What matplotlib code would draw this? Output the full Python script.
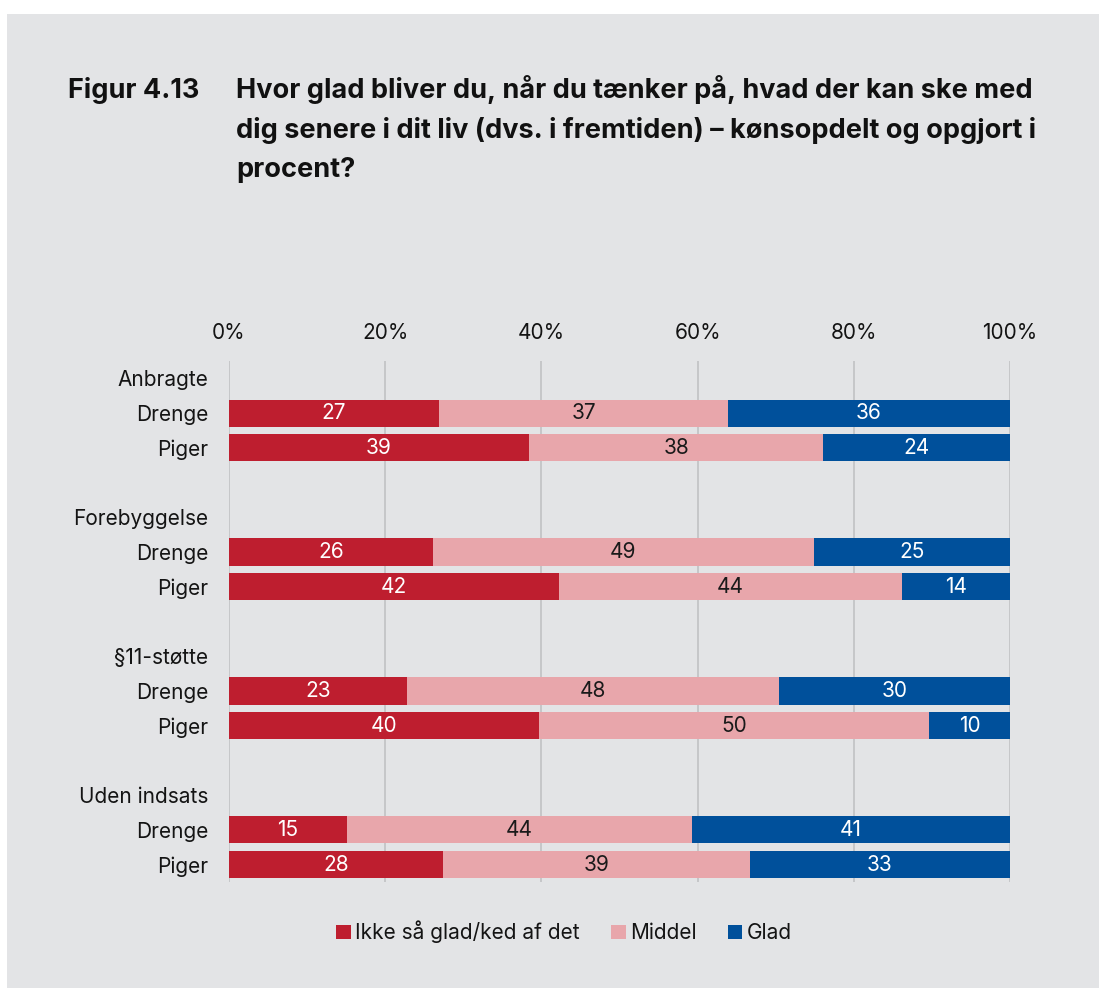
import matplotlib
matplotlib.use("Agg")
import matplotlib.pyplot as plt
from matplotlib.patches import Rectangle, Patch

plt.rcParams['font.family'] = ['Inter', 'DejaVu Sans']

groups = ["Anbragte", "Forebyggelse", "§11-støtte", "Uden indsats"]
genders = ["Drenge", "Piger"]
series = ["Ikke så glad/ked af det", "Middel", "Glad"]
colors = ["#be1e2f", "#e8a6ab", "#00509b"]
text_colors = ["white", "#1a1a1a", "white"]

# values per bar (group x gender), order: Anbragte D, Anbragte P, Forebyggelse D, ...
ikke = [26.9, 38.4, 26.1, 42.2, 22.8, 39.7, 15.1, 27.4]
middel = [37.0, 37.7, 48.8, 44.0, 47.6, 49.9, 44.2, 39.3]
glad = [36.1, 23.9, 25.1, 13.8, 29.6, 10.4, 40.7, 33.3]
labels_ikke = ["27", "39", "26", "42", "23", "40", "15", "28"]
labels_middel = ["37", "38", "49", "44", "48", "50", "44", "39"]
labels_glad = ["36", "24", "25", "14", "30", "10", "41", "33"]

xticks = [0, 20, 40, 60, 80, 100]

W, H = 1099, 988
fig = plt.figure(figsize=(W / 100, H / 100), dpi=100)
fig.patch.set_facecolor("white")
bg = "#e3e4e6"
fig.add_artist(Rectangle((7 / W, 0), 1, 1 - 14 / H, transform=fig.transFigure,
                         facecolor=bg, edgecolor="none", zorder=-10))

ax = fig.add_axes([229 / W, (H - 882) / H, 781 / W, 521 / H])
ax.set_facecolor("none")

# row positions
ypos = []
yticks = []
ylabels = []
for gi, g in enumerate(groups):
    base = gi * 4
    yticks.append(base)
    ylabels.append(g)
    for k, gen in enumerate(genders):
        ypos.append(base + 1 + k)
        yticks.append(base + 1 + k)
        ylabels.append(gen)

FS = 15
vals = [ikke, middel, glad]
labs = [labels_ikke, labels_middel, labels_glad]
left = [0.0] * len(ypos)
for s in range(3):
    ax.barh(ypos, vals[s], left=left, height=0.78, color=colors[s],
            label=series[s], zorder=3)
    for i, y in enumerate(ypos):
        ax.text(left[i] + vals[s][i] / 2, y, labs[s][i], ha="center", va="center",
                color=text_colors[s], fontsize=FS, zorder=4)
    left = [l + v for l, v in zip(left, vals[s])]

ax.set_xlim(0, 100)
ax.set_ylim(14.5, -0.5)
ax.set_xticks(xticks)
ax.set_xticklabels([f"{t}%" for t in xticks], fontsize=FS, color="#141414")
ax.xaxis.tick_top()
ax.tick_params(axis="x", length=0, pad=13)
ax.set_yticks(yticks)
ax.set_yticklabels(ylabels, fontsize=FS, color="#141414")
ax.tick_params(axis="y", length=0, pad=15)
ax.grid(axis="x", color="#c6c7c9", linewidth=1.4, zorder=0)
ax.set_axisbelow(True)
for sp in ax.spines.values():
    sp.set_visible(False)

# title
TFS = 19.5
fig.text(68 / W, 1 - 90 / H, "Figur 4.13", fontsize=TFS, fontweight="bold",
         ha="left", va="center", color="#111111")
title_lines = ["Hvor glad bliver du, når du tænker på, hvad der kan ske med",
               "dig senere i dit liv (dvs. i fremtiden) – kønsopdelt og opgjort i",
               "procent?"]
for i, line in enumerate(title_lines):
    fig.text(236 / W, 1 - (90 + 40 * i) / H, line, fontsize=TFS, fontweight="bold",
             ha="left", va="center", color="#111111")

handles = [Patch(facecolor=c, edgecolor="none") for c in colors]
fig.legend(handles, series, loc="center", bbox_to_anchor=(564 / W, 1 - 932 / H),
           ncol=3, frameon=False, fontsize=FS, handlelength=0.7, handleheight=0.7,
           handletextpad=0.2, columnspacing=1.5, labelcolor="#141414")

fig.savefig("out.png", dpi=100, facecolor=fig.get_facecolor())
